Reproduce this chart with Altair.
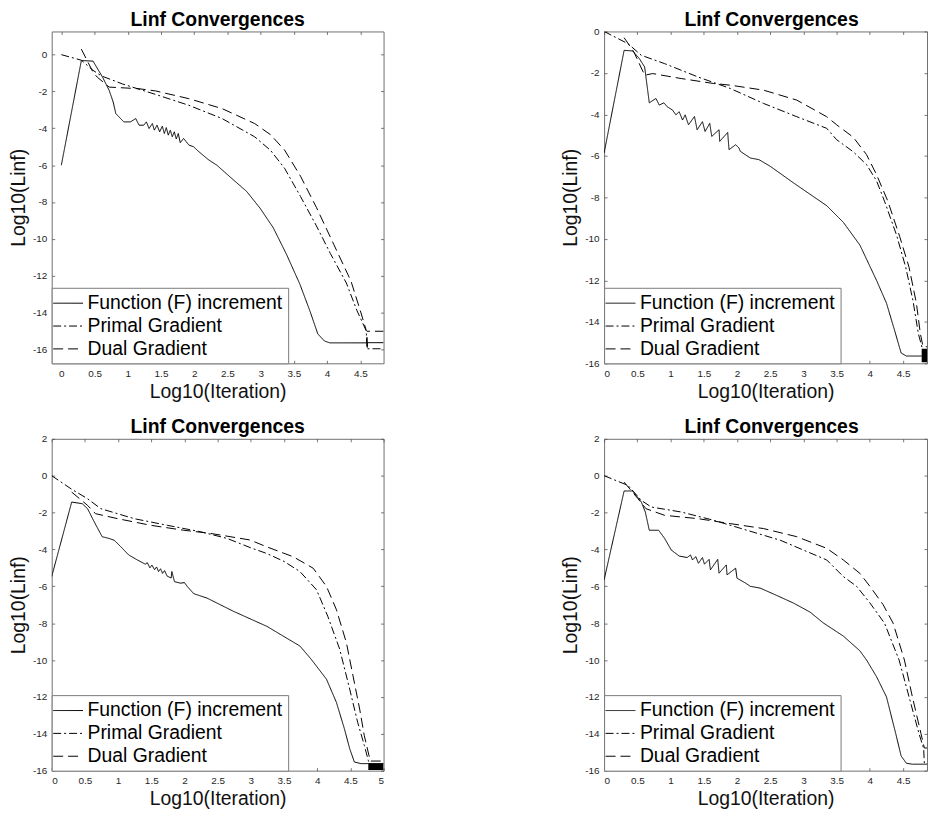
import altair as alt
import pandas as pd

FONT = "Liberation Sans"
SERIES = ["Function (F) increment", "Primal Gradient", "Dual Gradient"]
DASHES = [[1, 0], [8, 3, 2, 3], [10, 5]]
TITLE = "Linf Convergences"
XTITLE = "Log10(Iteration)"
YTITLE = "Log10(Linf)"

X_TICKS_45 = [0, 0.5, 1, 1.5, 2, 2.5, 3, 3.5, 4, 4.5]
X_TICKS_5 = [0, 0.5, 1, 1.5, 2, 2.5, 3, 3.5, 4, 4.5, 5]
Y_TICKS_0 = [0, -2, -4, -6, -8, -10, -12, -14, -16]
Y_TICKS_2 = [2, 0, -2, -4, -6, -8, -10, -12, -14, -16]

# ---------------- top-left panel ----------------
tl_f = [(0, -6.0), (0.301, -0.32), (0.477, -0.35), (0.62, -1.22), (0.72, -1.94),
        (0.78, -2.57), (0.82, -3.2), (0.86, -3.35), (0.94, -3.65), (1.04, -3.65),
        (1.12, -3.47), (1.17, -3.83), (1.24, -3.83), (1.28, -3.65), (1.32, -4.01),
        (1.37, -3.74), (1.40, -4.10), (1.44, -3.83), (1.48, -4.19), (1.52, -3.88),
        (1.55, -4.28), (1.58, -3.96), (1.61, -4.37), (1.64, -4.10), (1.67, -4.46),
        (1.70, -4.19), (1.73, -4.58), (1.76, -4.28), (1.79, -4.78), (1.84, -4.55),
        (1.92, -4.91), (1.99, -5.0), (2.07, -5.27), (2.22, -5.72), (2.34, -6.0),
        (2.59, -6.8), (2.79, -7.43), (2.99, -8.33), (3.19, -9.4), (3.39, -10.85),
        (3.59, -12.46), (3.74, -13.9), (3.86, -15.16), (3.96, -15.55), (4.04, -15.65),
        (4.60, -15.65), (4.60, -15.35), (4.605, -15.9), (4.61, -15.64), (4.85, -15.64)]
tl_p = [(0, 0), (0.301, -0.3), (0.477, -0.85), (0.6, -1.15), (0.92, -1.59),
        (1.42, -2.16), (1.92, -2.75), (2.42, -3.47), (2.91, -4.46), (3.15, -5.2),
        (3.36, -6.17), (3.6, -7.7), (3.84, -9.3), (4.05, -10.8), (4.29, -12.4),
        (4.45, -13.9), (4.59, -15.0), (4.60, -15.97), (4.85, -15.97)]
tl_d = [(0.301, 0.3), (0.477, -0.95), (0.54, -1.22), (0.72, -1.76), (1.17, -1.85),
        (1.42, -1.97), (1.92, -2.39), (2.42, -2.93), (2.91, -3.74), (3.15, -4.35),
        (3.36, -5.18), (3.6, -6.6), (3.84, -8.3), (4.1, -10.3), (4.36, -12.3),
        (4.5, -13.9), (4.59, -14.98), (4.60, -15.02), (4.85, -15.02)]

# ---------------- top-right panel ----------------
tr_f = [(0, -5.86), (0.301, -0.91), (0.43, -0.94), (0.53, -1.31), (0.61, -1.71),
        (0.68, -3.44), (0.78, -3.23), (0.83, -3.55), (0.90, -3.44), (0.95, -3.63),
        (1.03, -3.79), (1.08, -4.02), (1.13, -3.87), (1.18, -4.27), (1.22, -4.02),
        (1.27, -4.5), (1.36, -4.1), (1.40, -4.74), (1.48, -4.35), (1.52, -4.82),
        (1.59, -4.43), (1.62, -5.06), (1.73, -4.74), (1.74, -5.3), (1.86, -4.87),
        (1.88, -5.7), (1.98, -5.46), (2.03, -5.62), (2.05, -5.78), (2.20, -6.1),
        (2.33, -6.18), (2.50, -6.5), (2.85, -7.3), (3.1, -7.85), (3.35, -8.4),
        (3.6, -9.2), (3.85, -10.3), (4.1, -12.0), (4.25, -13.1), (4.38, -14.5),
        (4.47, -15.5), (4.55, -15.65), (4.78, -15.65), (4.86, -15.65)]
tr_p = [(0, 0), (0.36, -0.59), (0.56, -1.15), (0.91, -1.55), (1.41, -2.19),
        (1.90, -2.75), (2.40, -3.47), (2.90, -4.11), (3.35, -4.67), (3.5, -5.22),
        (3.75, -5.8), (3.95, -6.42), (4.1, -7.2), (4.22, -8.18), (4.4, -9.8),
        (4.54, -11.37), (4.65, -13.0), (4.73, -14.57), (4.79, -15.3), (4.80, -15.6),
        (4.86, -15.6)]
tr_d = [(0.301, -0.3), (0.45, -1.0), (0.61, -2.11), (0.73, -2.03), (1.16, -2.27),
        (1.65, -2.51), (1.90, -2.59), (2.40, -2.83), (2.90, -3.31), (3.35, -4.11),
        (3.5, -4.5), (3.75, -5.1), (3.95, -5.94), (4.1, -6.9), (4.27, -8.18),
        (4.45, -9.9), (4.59, -11.37), (4.7, -13.1), (4.76, -14.57), (4.80, -15.2),
        (4.86, -15.2)]
tr_block = (4.78, 4.95, -15.95, -15.3)

# ---------------- bottom-left panel ----------------
bl_f = [(0, -5.47), (0.301, -1.43), (0.46, -1.52), (0.54, -1.79), (0.64, -2.5),
        (0.76, -3.31), (0.86, -3.4), (0.94, -3.5), (1.04, -3.85), (1.16, -4.3),
        (1.29, -4.57), (1.41, -4.8), (1.44, -4.72), (1.48, -5.0), (1.51, -4.85),
        (1.55, -5.1), (1.58, -4.95), (1.61, -5.2), (1.64, -5.05), (1.67, -5.3),
        (1.70, -5.15), (1.74, -5.45), (1.80, -5.55), (1.81, -5.2), (1.85, -5.75),
        (1.94, -5.83), (2.0, -5.8), (2.04, -6.0), (2.14, -6.4), (2.34, -6.64),
        (2.74, -7.36), (3.24, -8.17), (3.74, -9.24), (3.91, -9.96), (4.14, -11.04),
        (4.29, -12.3), (4.41, -13.73), (4.49, -14.81), (4.56, -15.53), (4.66, -15.62),
        (4.78, -15.62), (5.0, -15.62)]
bl_p = [(0, 0), (0.29, -0.71), (0.54, -1.25), (0.74, -1.79), (1.24, -2.33),
        (1.74, -2.69), (2.24, -3.04), (2.64, -3.4), (2.99, -3.9), (3.24, -4.22),
        (3.5, -4.65), (3.74, -5.2), (3.99, -6.19), (4.16, -7.63), (4.34, -9.42),
        (4.49, -11.58), (4.61, -13.38), (4.71, -14.63), (4.77, -15.44), (4.80, -15.8)]
bl_d = [(0.301, -0.89), (0.54, -1.61), (0.66, -2.06), (0.99, -2.33), (1.49, -2.69),
        (1.99, -2.96), (2.39, -3.13), (2.99, -3.49), (3.24, -3.86), (3.64, -4.4),
        (3.94, -5.02), (4.14, -6.01), (4.29, -7.27), (4.44, -9.06), (4.54, -10.86),
        (4.64, -12.66), (4.71, -14.1), (4.78, -15.17), (4.80, -15.48), (5.0, -15.48)]
bl_block = (4.77, 5.0, -15.97, -15.6)

# ---------------- bottom-right panel ----------------
br_f = [(0, -5.65), (0.301, -0.83), (0.43, -0.83), (0.56, -1.43), (0.62, -1.97),
        (0.68, -2.96), (0.82, -2.96), (0.91, -3.4), (1.01, -4.03), (1.13, -4.36),
        (1.25, -4.44), (1.30, -4.3), (1.33, -4.57), (1.38, -4.39), (1.42, -4.75),
        (1.48, -4.44), (1.51, -4.8), (1.58, -4.54), (1.60, -5.11), (1.71, -4.54),
        (1.73, -5.29), (1.84, -4.84), (1.85, -5.38), (1.98, -5.02), (2.0, -5.56),
        (2.13, -5.83), (2.20, -6.0), (2.35, -6.1), (2.6, -6.5), (2.85, -6.91),
        (3.1, -7.4), (3.3, -7.99), (3.6, -8.7), (3.85, -9.5), (3.95, -10.0),
        (4.1, -10.9), (4.25, -12.0), (4.39, -14.0), (4.47, -15.2), (4.55, -15.6),
        (4.64, -15.65), (4.86, -15.65)]
br_p = [(0, 0), (0.36, -0.53), (0.56, -1.34), (0.71, -1.7), (1.16, -1.97),
        (1.65, -2.42), (2.15, -2.96), (2.65, -3.5), (3.35, -4.57), (3.6, -5.47),
        (3.8, -6.0), (4.0, -6.9), (4.22, -8.0), (4.44, -10.0), (4.59, -12.0),
        (4.74, -14.0), (4.81, -14.8), (4.82, -15.62), (4.86, -15.62)]
br_d = [(0.301, -0.35), (0.51, -1.25), (0.63, -1.79), (0.91, -2.15), (1.41, -2.33),
        (1.90, -2.6), (2.40, -2.87), (2.90, -3.31), (3.35, -3.94), (3.6, -4.57),
        (3.85, -5.3), (4.0, -6.0), (4.2, -7.0), (4.35, -8.0), (4.52, -10.0),
        (4.64, -12.0), (4.77, -14.0), (4.82, -14.77), (4.86, -14.77)]


def series_frame(f, p, d):
    rows = []
    for name, pts in zip(SERIES, (f, p, d)):
        for i, (x, y) in enumerate(pts):
            rows.append({"x": x, "y": y, "series": name, "i": i})
    return pd.DataFrame(rows)


def panel(f, p, d, block, xdom, ydom, xticks, yticks, width, title_dx, title_dy):
    df = series_frame(f, p, d)
    xs = alt.Scale(domain=xdom, nice=False, zero=False)
    ys = alt.Scale(domain=ydom, nice=False, zero=False)
    lab = "datum.value + ''"
    legend = alt.Legend(
        title=None, orient="bottom-left", offset=0, fillColor="white",
        strokeColor="#7a7a7a", padding=5, labelFont=FONT, labelFontSize=19.5,
        labelColor="black", labelLimit=400, symbolType="M-1.5,0H1.5",
        symbolSize=400, symbolStrokeWidth=1, symbolStrokeColor="black",
        symbolFillColor="transparent", symbolOffset=1, labelOffset=9, rowPadding=3,
    )
    lines = alt.Chart(df).mark_line(
        color="black", strokeWidth=1, strokeJoin="round", clip=True
    ).encode(
        x=alt.X("x:Q", scale=xs, axis=alt.Axis(
            orient="bottom", values=xticks, title=XTITLE, labelExpr=lab,
            labelPadding=5, titlePadding=4, offset=-3, tickSize=3,
            domain=False, grid=False)),
        y=alt.Y("y:Q", scale=ys, axis=alt.Axis(
            orient="left", values=yticks, title=YTITLE, labelExpr=lab,
            labelPadding=5, titlePadding=4, offset=-3, tickSize=3,
            domain=False, grid=False)),
        strokeDash=alt.StrokeDash(
            "series:N", scale=alt.Scale(domain=SERIES, range=DASHES), legend=legend),
        order=alt.Order("i:Q"),
    )
    mirror = alt.Chart(df).mark_point(opacity=0, size=1).encode(
        x=alt.X("x:Q", scale=xs, axis=alt.Axis(
            orient="top", values=xticks, labels=False, title=None, offset=-3,
            tickSize=3, domain=False, grid=False)),
        y=alt.Y("y:Q", scale=ys, axis=alt.Axis(
            orient="right", values=yticks, labels=False, title=None, offset=-3,
            tickSize=3, domain=False, grid=False)),
    )
    layers = [lines, mirror]
    if block is not None:
        bdf = pd.DataFrame({"x0": [block[0]], "x1": [block[1]],
                            "y0": [block[2]], "y1": [block[3]]})
        rect = alt.Chart(bdf).mark_rect(color="black", clip=True).encode(
            x=alt.X("x0:Q", scale=xs, axis=None), x2="x1:Q",
            y=alt.Y("y0:Q", scale=ys, axis=None), y2="y1:Q",
        )
        layers = [rect] + layers
    title = alt.TitleParams(TITLE, offset=1, dx=title_dx, dy=title_dy)
    return alt.layer(*layers).resolve_axis(
        x="independent", y="independent"
    ).properties(width=width, height=334, title=title)


tl = panel(tl_f, tl_p, tl_d, None, [-0.145, 4.85], [-16.76, 1.26], X_TICKS_45, Y_TICKS_0, 334, 0, 0)
tr = panel(tr_f, tr_p, tr_d, tr_block, [0, 4.86], [-16, 0], X_TICKS_45, Y_TICKS_0, 325, 6, 5)
bl = panel(bl_f, bl_p, bl_d, bl_block, [0, 5], [-16, 2], X_TICKS_5, Y_TICKS_2, 334, 0, 5)
br = panel(br_f, br_p, br_d, None, [0, 4.86], [-16, 2], X_TICKS_45, Y_TICKS_2, 325, 6, 5)

chart = alt.concat(
    tl, tr, bl, br, columns=2, spacing={"row": 76, "column": 222}, bounds="flush"
).resolve_scale(strokeDash="independent").resolve_legend(
    strokeDash="independent"
).properties(
    padding={"left": 0, "right": 0, "top": -2, "bottom": 0}
).configure_view(
    stroke="#707070", strokeWidth=1
).configure_axis(
    labelFont=FONT, labelFontSize=10, labelColor="#262626",
    titleFont=FONT, titleFontSize=19.5, titleFontWeight="normal", titleColor="#111111",
    tickColor="#555555", tickWidth=0.8,
).configure_title(
    font=FONT, fontSize=19.5, fontWeight="bold", color="black", anchor="middle",
)

chart.save("out.html", embed_options={"renderer": "svg", "actions": False})
